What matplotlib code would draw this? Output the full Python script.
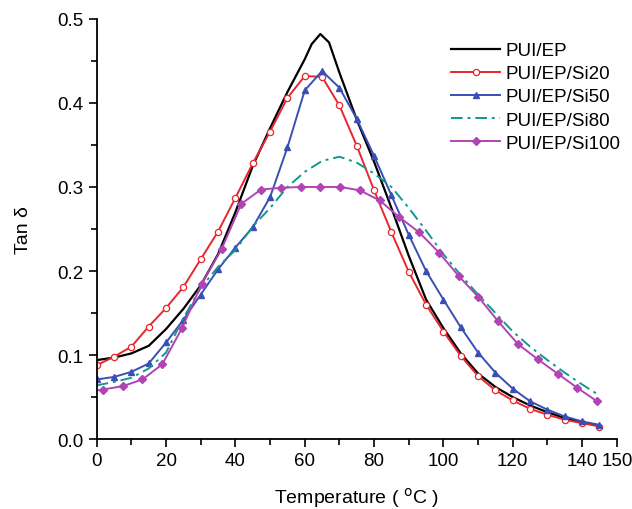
import numpy as np
import matplotlib.pyplot as plt
from matplotlib.ticker import MultipleLocator

plt.rcParams['font.family'] = ['Liberation Sans', 'DejaVu Sans']

# temperatures (deg C)
t5 = [0, 5, 10, 15, 20, 25, 30, 35, 40, 45, 50, 55, 60, 65, 70, 75,
      80, 85, 90, 95, 100, 105, 110, 115, 120, 125, 130, 135, 140, 145]
t_ep = [0, 5, 10, 15, 20, 25, 30, 35, 40, 45, 50, 55, 60, 62, 64.5, 67,
        70, 75, 80, 85, 90, 95, 100, 105, 110, 115, 120, 125, 130, 135, 140, 145]
t_si100 = [0, 1.8, 7.5, 13.2, 18.9, 24.6, 30.3, 36.0, 41.7, 47.4, 53.1, 58.8,
           64.5, 70.2, 75.9, 81.6, 87.3, 93.0, 98.7, 104.4, 110.1, 115.8,
           121.5, 127.2, 132.9, 138.6, 144.3]

tan_ep = [0.094, 0.097, 0.102, 0.111, 0.131, 0.155, 0.183, 0.220, 0.270, 0.325,
          0.370, 0.413, 0.452, 0.470, 0.482, 0.472, 0.436, 0.380, 0.330, 0.275,
          0.218, 0.166, 0.132, 0.102, 0.078, 0.062, 0.050, 0.040, 0.032, 0.025,
          0.020, 0.016]
tan_si20 = [0.088, 0.098, 0.110, 0.134, 0.156, 0.181, 0.214, 0.247, 0.287, 0.328,
            0.366, 0.406, 0.432, 0.431, 0.397, 0.349, 0.296, 0.246, 0.199, 0.160,
            0.128, 0.099, 0.075, 0.058, 0.046, 0.036, 0.029, 0.023, 0.019, 0.015]
tan_si50 = [0.071, 0.074, 0.080, 0.090, 0.115, 0.142, 0.172, 0.202, 0.228, 0.252,
            0.288, 0.347, 0.415, 0.438, 0.418, 0.381, 0.337, 0.290, 0.243, 0.200,
            0.166, 0.133, 0.103, 0.079, 0.060, 0.045, 0.035, 0.027, 0.021, 0.017]
tan_si80 = [0.064, 0.068, 0.073, 0.084, 0.103, 0.144, 0.180, 0.205, 0.225, 0.253,
            0.275, 0.300, 0.318, 0.331, 0.336, 0.329, 0.316, 0.300, 0.275, 0.248,
            0.220, 0.195, 0.172, 0.150, 0.128, 0.110, 0.094, 0.079, 0.065, 0.052]
tan_si100 = [0.058, 0.059, 0.063, 0.071, 0.089, 0.132, 0.185, 0.226, 0.280, 0.297,
             0.299, 0.300, 0.300, 0.300, 0.296, 0.284, 0.264, 0.246, 0.222, 0.194,
             0.169, 0.140, 0.113, 0.095, 0.078, 0.061, 0.045]

fig = plt.figure(figsize=(6.32, 5.10), dpi=100)
ax = fig.add_axes([0.153, 0.137, 0.823, 0.824])

ax.plot(t_ep, tan_ep, color='black', lw=1.6, label='PUI/EP')
ax.plot(t5, tan_si20, color='#e8262d', lw=1.4, marker='o', ms=4.5,
        mfc='white', mec='#e8262d', mew=0.9, label='PUI/EP/Si20')
ax.plot(t5, tan_si50, color='#3a4fb4', lw=1.4, marker='^', ms=4.5,
        label='PUI/EP/Si50')
ax.plot(t5, tan_si80, color='#109a8c', lw=1.4, ls=(0, (6, 2.5, 1.5, 2.5)),
        label='PUI/EP/Si80')
ax.plot(t_si100, tan_si100, color='#b044b4', lw=1.4, marker='D', ms=4,
        markevery=slice(1, None), label='PUI/EP/Si100')

ax.set_xlim(0, 150)
ax.set_ylim(0, 0.5)
ax.set_xticks([0, 20, 40, 60, 80, 100, 120, 140, 150])
ax.xaxis.set_minor_locator(MultipleLocator(10))
ax.yaxis.set_major_locator(MultipleLocator(0.1))
ax.yaxis.set_minor_locator(MultipleLocator(0.05))
ax.yaxis.set_major_formatter(plt.FormatStrFormatter('%.1f'))
ax.tick_params(which='major', direction='out', length=6, width=1.2, labelsize=13.5)
ax.tick_params(which='minor', direction='out', length=4, width=1.2)
for s in ['top', 'right']:
    ax.spines[s].set_visible(False)
for s in ['left', 'bottom']:
    ax.spines[s].set_linewidth(1.3)

ax.set_xlabel('Temperature ( $^{\\rm o}$C )', fontsize=14, labelpad=11)
ax.set_ylabel('Tan δ', fontsize=14, labelpad=18)

ax.legend(loc='upper right', bbox_to_anchor=(1.04, 0.985), frameon=False,
          fontsize=13.5, handlelength=2.6, labelspacing=0.32, handletextpad=0.3)

fig.savefig('out.png', dpi=100)
